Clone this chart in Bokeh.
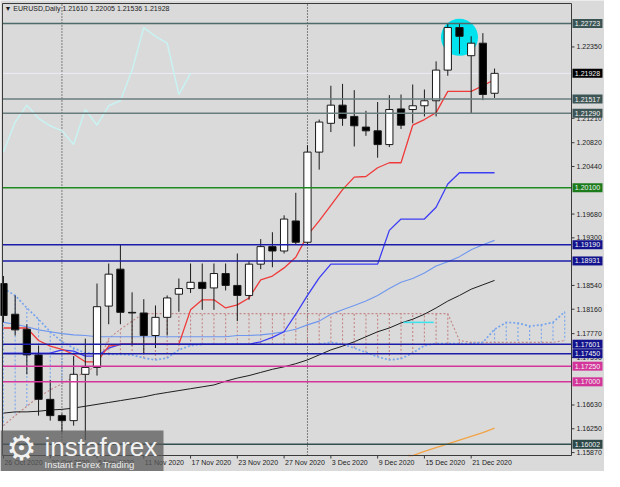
from bokeh.plotting import figure
from bokeh.models import Range1d, ColumnDataSource
from bokeh.core.properties import value
from bokeh.embed import file_html
from bokeh.resources import INLINE

# ---------------- data ----------------
symbol = "EURUSD,Daily"
date_labels = ["26 Oct 2020", "30 Oct 2020", "5 Nov 2020", "11 Nov 2020", "17 Nov 2020",
               "23 Nov 2020", "27 Nov 2020", "3 Dec 2020", "9 Dec 2020", "15 Dec 2020", "21 Dec 2020"]
date_label_bars = [0, 4, 8, 12, 16, 20, 24, 28, 32, 36, 40]
month_start_bars = [5, 26]

opens = [1.1857, 1.1808, 1.1784, 1.1743, 1.1672, 1.1646, 1.1638, 1.1712, 1.1723, 1.1821,
         1.1880, 1.1811, 1.1810, 1.1774, 1.1803, 1.1840, 1.1849, 1.1859, 1.1850, 1.1873,
         1.1854, 1.1838, 1.1888, 1.1916, 1.1909, 1.1957, 1.1923, 1.2067, 1.2113, 1.2142,
         1.2124, 1.2107, 1.2101, 1.2079, 1.2136, 1.2135, 1.2141, 1.2149, 1.2198, 1.2266,
         1.2221, 1.2241, 1.21610]
highs = [1.1869, 1.1838, 1.1792, 1.1758, 1.1703, 1.1649, 1.1741, 1.1769, 1.1857, 1.1889,
         1.1919, 1.1843, 1.1832, 1.1822, 1.1838, 1.1865, 1.1889, 1.1889, 1.1889, 1.1889,
         1.1905, 1.1893, 1.1928, 1.1939, 1.1966, 1.2002, 1.2078, 1.2119, 1.2173, 1.2176,
         1.2166, 1.2133, 1.2147, 1.2158, 1.2159, 1.2175, 1.2167, 1.2212, 1.2272, 1.2272,
         1.2252, 1.2257, 1.22005]
lows = [1.1795, 1.1774, 1.1712, 1.1646, 1.1638, 1.1619, 1.1630, 1.1607, 1.1710, 1.1792,
        1.1792, 1.1758, 1.1744, 1.1754, 1.1774, 1.1812, 1.1842, 1.1815, 1.1815, 1.1846,
        1.1797, 1.1831, 1.1880, 1.1883, 1.1905, 1.1919, 1.1919, 1.2039, 1.2099, 1.2109,
        1.2076, 1.2093, 1.2058, 1.2075, 1.2104, 1.2113, 1.2124, 1.2124, 1.2189, 1.2224,
        1.2129, 1.2150, 1.21536]
closes = [1.1806, 1.1783, 1.1743, 1.1672, 1.1646, 1.1638, 1.1712, 1.1723, 1.1820, 1.1872,
          1.1811, 1.1810, 1.1774, 1.1803, 1.1834, 1.1849, 1.1859, 1.1849, 1.1873, 1.1854,
          1.1838, 1.1888, 1.1916, 1.1909, 1.1960, 1.1923, 1.2067, 1.2115, 1.2142, 1.2121,
          1.2109, 1.2101, 1.2079, 1.2135, 1.2110, 1.2141, 1.2149, 1.2198, 1.2266, 1.2252,
          1.2241, 1.2159, 1.21928]

tenkan = [1.1786, 1.1786, 1.1786, 1.1766, 1.1757, 1.1752, 1.1744, 1.1732, 1.1732, 1.1757,
          1.1760, 1.1760, 1.1760, 1.1760, 1.1760, 1.1760, 1.1815, 1.1831, 1.1831, 1.1818,
          1.1823, 1.1834, 1.1863, 1.1869, 1.1882, 1.1899, 1.1934, 1.1957, 1.1982, 1.2007,
          1.2027, 1.2028, 1.2042, 1.2050, 1.2050, 1.2110, 1.2119, 1.2130, 1.2164, 1.2164,
          1.2164, 1.2173, 1.2183]
kijun = [1.1746, 1.1746, 1.1746, 1.1746, 1.1746, 1.1751, 1.1749, 1.1741, 1.1741, 1.1754,
         1.1760, 1.1760, 1.1760, 1.1760, 1.1760, 1.1760, 1.1760, 1.1760, 1.1760, 1.1760,
         1.1760, 1.1760, 1.1764, 1.1771, 1.1780, 1.1808, 1.1838, 1.1866, 1.1888, 1.1888,
         1.1888, 1.1888, 1.1888, 1.1942, 1.1960, 1.1960, 1.1960, 1.1979, 1.2016, 1.2034,
         1.2034, 1.2034, 1.2034]
ma_fast = [1.1795, 1.1792, 1.1788, 1.1783, 1.1780, 1.1777, 1.1775, 1.1774, 1.1772, 1.1772,
           1.1772, 1.1772, 1.1772, 1.1772, 1.1772, 1.1772, 1.1772, 1.1772, 1.1772, 1.1772,
           1.1774, 1.1774, 1.1775, 1.1777, 1.1780, 1.1784, 1.1791, 1.1797, 1.1808, 1.1815,
           1.1822, 1.1829, 1.1838, 1.1849, 1.1859, 1.1865, 1.1874, 1.1885, 1.1892, 1.1900,
           1.1911, 1.1919, 1.1926]
ma_slow = [1.1650, 1.1652, 1.1652, 1.1653, 1.1655, 1.1656, 1.1658, 1.1661, 1.1664, 1.1667,
           1.1670, 1.1673, 1.1676, 1.1680, 1.1683, 1.1686, 1.1689, 1.1692, 1.1695, 1.1701,
           1.1706, 1.1710, 1.1715, 1.1720, 1.1724, 1.1729, 1.1735, 1.1743, 1.1751, 1.1757,
           1.1764, 1.1772, 1.1780, 1.1786, 1.1794, 1.1800, 1.1808, 1.1818, 1.1829, 1.1838,
           1.1848, 1.1855, 1.1862]
ma_long_bars = [34.6, 35, 36, 37, 38, 39, 40, 41, 42]
ma_long = [1.15823, 1.1582, 1.1589, 1.1595, 1.1601, 1.1607, 1.1613, 1.1619, 1.1626]

# Ichimoku cloud, already shifted 26 bars ahead (49 bars)
span_a = [1.1849, 1.1838, 1.1818, 1.1800, 1.1780, 1.1764, 1.1754, 1.1746, 1.1746, 1.1744,
          1.1744, 1.1743, 1.1738, 1.1735, 1.1738, 1.1751, 1.1758, 1.1760, 1.1760, 1.1760,
          1.1760, 1.1760, 1.1760, 1.1760, 1.1760, 1.1760, 1.1760, 1.1760, 1.1763, 1.1760,
          1.1754, 1.1747, 1.1740, 1.1735, 1.1737, 1.1746, 1.1758, 1.1761, 1.1761, 1.1761,
          1.1761, 1.1763, 1.1784, 1.1795, 1.1794, 1.1789, 1.1791, 1.1795, 1.1812]
span_b = [1.1630, 1.1646, 1.1661, 1.1676, 1.1687, 1.1697, 1.1707, 1.1715, 1.1726, 1.1769,
          1.1784, 1.1797, 1.1809, 1.1809, 1.1809, 1.1809, 1.1809, 1.1809, 1.1809, 1.1809,
          1.1809, 1.1809, 1.1809, 1.1809, 1.1809, 1.1809, 1.1809, 1.1809, 1.1809, 1.1809,
          1.1809, 1.1809, 1.1809, 1.1809, 1.1809, 1.1809, 1.1809, 1.1809, 1.1809, 1.1766,
          1.1763, 1.1763, 1.1763, 1.1763, 1.1763, 1.1763, 1.1763, 1.1763, 1.1766]
chikou_shift = 26

price_ticks = [1.15870, 1.16250, 1.16630, 1.17390, 1.17770, 1.18160, 1.18540, 1.19300,
               1.19680, 1.20440, 1.20820, 1.21210, 1.22350]

level_prices = [1.22723, 1.21517, 1.21290, 1.20100, 1.19190, 1.18931, 1.17601, 1.17450,
                1.17250, 1.17000, 1.16002]
level_colors = ["#4f6a6a", "#687c7c", "#687c7c", "#1f8a1f", "#1c1ca8", "#1c1ca8", "#1c1ca8",
                "#1c1ca8", "#d3359a", "#d3359a", "#2f4f4f"]
tag_colors = ["#3a5454", "#3e5555", "#3e5555", "#1c7c1c", "#12128c", "#12128c", "#12128c",
              "#12128c", "#d3359a", "#d3359a", "#2c4848"]

highlight_bar = 39
highlight_price = 1.22504
trend_seg_bars = [34.2, 36.8]
trend_seg_price = 1.1795

# ---------------- canvas geometry ----------------
W, H = 604, 471
PL, PR, PT, PB = 2, 571, 3, 455          # chart area inside the canvas (px)
X0, X1 = -0.083, 48.58                   # bar index at chart left / right edge
Y0, Y1 = 1.15823, 1.23044                # price at chart bottom / top edge
KX = (X1 - X0) / (PR - PL)
KY = (Y1 - Y0) / (PB - PT)
BG = "#dadada"
FONT = "Liberation Sans"
INK = "#222222"
ROSY = "#c48686"
SKY = "#77a5ee"


def cx(px):
    return X0 + (px - PL) * KX


def cy(py):
    return Y1 - (py - PT) * KY


p = figure(frame_width=W, frame_height=H, x_range=Range1d(cx(0), cx(W)),
           y_range=Range1d(cy(H), cy(0)), x_axis_location=None, y_axis_location=None,
           toolbar_location=None, output_backend="svg", min_border=0,
           background_fill_color=BG, border_fill_color=BG, outline_line_color=None)
p.grid.visible = False

bars = list(range(len(closes)))

# month separators, bid line
p.segment(x0=month_start_bars, y0=[Y0] * len(month_start_bars), x1=month_start_bars,
          y1=[Y1] * len(month_start_bars), line_color="#222222", line_dash="1 2", line_width=1)
p.segment(x0=[X0], y0=[closes[-1]], x1=[X1], y1=[closes[-1]], line_color="#ececf8", line_width=1)

# ---------------- Ichimoku cloud ----------------
cloud_x = list(range(len(span_a)))
cloud_cols = [SKY if a >= b else ROSY for a, b in zip(span_a, span_b)]
p.segment(x0=cloud_x, y0=span_a, x1=cloud_x, y1=span_b, line_color=cloud_cols,
          line_dash="2 2", line_width=1.1)
p.line(cloud_x, span_b, line_color=ROSY, line_dash="2 2", line_width=1.1)
p.line(cloud_x, span_a, line_color=SKY, line_dash="2 2", line_width=1.7)

# moving averages
p.line(bars, ma_slow, line_color="#1e1e1e", line_width=1)
p.line(bars, ma_fast, line_color="#6f97ee", line_width=1.1)
p.line(ma_long_bars, ma_long, line_color="#f2a444", line_width=1.3)
p.line(trend_seg_bars, [trend_seg_price, trend_seg_price], line_color="#3fe3f0", line_width=1.6)

# chikou span (closes shifted back)
p.line(bars[:len(closes) - chikou_shift], closes[chikou_shift:], line_color="#c9f2f2", line_width=1.5)

# kijun / tenkan
p.line(bars, kijun, line_color="#3c3cf5", line_width=1.3)
p.line(bars, tenkan, line_color="#ef3a3a", line_width=1.3)

# highlight circle
p.scatter([highlight_bar], [highlight_price], size=37, marker="circle",
          fill_color="#00e3ef", line_color=None)

# ---------------- candles ----------------
src = ColumnDataSource(dict(
    x=bars, high=highs, low=lows,
    top=[max(o, c) for o, c in zip(opens, closes)],
    bottom=[min(o, c) for o, c in zip(opens, closes)],
    fill=["#ffffff" if c > o else "#000000" for o, c in zip(opens, closes)],
))
p.segment(x0="x", y0="low", x1="x", y1="high", source=src, line_color="#1a1a1a", line_width=1)
p.vbar(x="x", width=0.62, top="top", bottom="bottom", source=src,
       fill_color="fill", line_color="#1a1a1a", line_width=1)

# ---------------- horizontal levels ----------------
n_lv = len(level_prices)
p.segment(x0=[X0] * n_lv, y0=level_prices, x1=[X1] * n_lv, y1=level_prices,
          line_color=level_colors, line_width=1.5)

# chart frame
p.quad(left=[X0], right=[X1], bottom=[Y0], top=[Y1], fill_color=None,
       line_color="#3a3a3a", line_width=1)

# ---------------- price scale (right) ----------------
n_pt = len(price_ticks)
p.segment(x0=[X1] * n_pt, y0=price_ticks, x1=[X1 + 3 * KX] * n_pt, y1=price_ticks,
          line_color="#3a3a3a", line_width=1)
p.text(x=[X1 + 5 * KX] * n_pt, y=price_ticks, text=[f"{v:.5f}" for v in price_ticks],
       text_font=value(FONT), text_font_size=value("7px"), text_color=INK,
       text_align="left", text_baseline="middle")

# price tags
tag_prices = level_prices + [closes[-1]]
tag_bg = tag_colors + ["#000000"]
tag_src = ColumnDataSource(dict(x=[X1 + 16 * KX] * len(tag_prices), y=tag_prices,
                                label=[f"{v:.5f}" for v in tag_prices], bg=tag_bg))
p.rect(x="x", y="y", width=30, height=9, width_units="screen", height_units="screen",
       source=tag_src, fill_color="bg", line_color=None)
p.text(x="x", y="y", text="label", source=tag_src, text_font=value(FONT),
       text_font_size=value("7px"), text_color="#f4f4f4", text_align="center",
       text_baseline="middle")

# ---------------- time scale (bottom) ----------------
n_dt = len(date_label_bars)
p.segment(x0=date_label_bars, y0=[Y0] * n_dt, x1=date_label_bars, y1=[Y0 - 3 * KY] * n_dt,
          line_color="#3a3a3a", line_width=1)
p.text(x=[b + 1 * KX for b in date_label_bars], y=[Y0 - 3 * KY] * n_dt, text=date_labels,
       text_font=value(FONT), text_font_size=value("7px"), text_color=INK,
       text_align="left", text_baseline="top")

# title
p.text(x=[cx(4)], y=[cy(7.5)],
       text=[f"\u25BC {symbol}  {opens[-1]:.5f} {highs[-1]:.5f} {lows[-1]:.5f} {closes[-1]:.5f}"],
       text_font=value(FONT), text_font_size=value("7px"), text_color="#1e1e1e",
       text_align="left", text_baseline="middle")

# ---------------- watermark ----------------
p.quad(left=[cx(0)], right=[cx(163)], top=[cy(430)], bottom=[cy(H)],
       fill_color="#5a5a5a", fill_alpha=0.75, line_color=None)
p.text(x=[cx(44)], y=[cy(446)], text=["instaforex"], text_font=value(FONT),
       text_font_size=value("26px"), text_color="#f2f2f2", text_align="left",
       text_baseline="middle")
p.text(x=[cx(44)], y=[cy(463.5)], text=["Instant Forex Trading"], text_font=value(FONT),
       text_font_size=value("9.5px"), text_color="#ececec", text_align="left",
       text_baseline="middle")
p.text(x=[cx(21)], y=[cy(447)], text=["\u2699"], text_font=value("DejaVu Sans"),
       text_font_size=value("34px"), text_color="#f2f2f2", text_align="center",
       text_baseline="middle")

open("out.html", "w").write(file_html(p, INLINE))
